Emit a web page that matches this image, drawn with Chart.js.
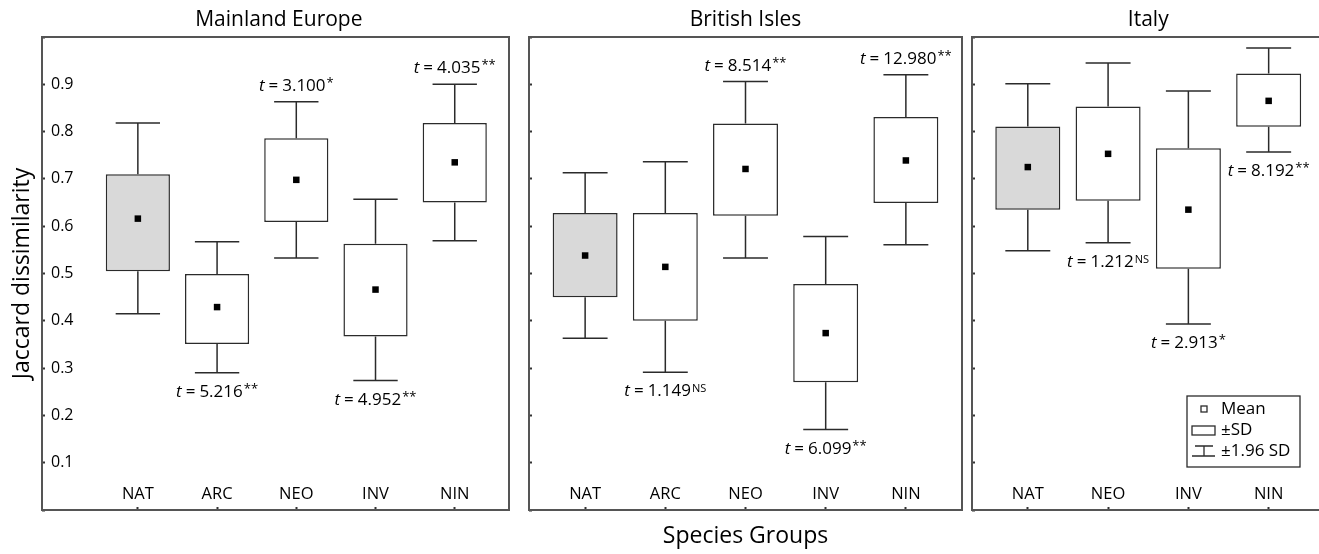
<!DOCTYPE html>
<html>
<head>
<meta charset="utf-8">
<script src="https://cdn.jsdelivr.net/npm/chart.js@4.4.0/dist/chart.umd.min.js"></script>
<style>
  html, body { margin: 0; padding: 0; background: #fff; overflow: hidden; }
  #wrap { position: relative; width: 1319px; height: 554px; }
  #wrap canvas { position: absolute; top: 0; }
</style>
</head>
<body>
<div id="wrap">
  <canvas id="europe" width="520" height="554" style="left:0"></canvas>
  <canvas id="british" width="450" height="554" style="left:520px"></canvas>
  <canvas id="italy" width="354" height="554" style="left:965px"></canvas>
</div>
<script>
(function() {
  'use strict';

  var FONT = '"Open Sans", "DejaVu Sans", sans-serif';
  var INK = '#000';
  var LINE = '#2b2b2b';
  var FRAME = '#555';

  // y axis tick labels (0.1 .. 0.9)
  var yTickLabels = ['0.1', '0.2', '0.3', '0.4', '0.5', '0.6', '0.7', '0.8', '0.9'];
  var legendLabels = ['Mean', '\u00b1SD', '\u00b11.96 SD'];

  // Mainland Europe
  var europeGroups = ['NAT', 'ARC', 'NEO', 'INV', 'NIN'];
  var europeMean   = [0.616, 0.429, 0.698, 0.466, 0.735];
  var europeSdLow  = [0.505, 0.351, 0.609, 0.367, 0.650];
  var europeSdHigh = [0.710, 0.499, 0.786, 0.563, 0.818];
  var europeCiLow  = [0.415, 0.290, 0.533, 0.274, 0.569];
  var europeCiHigh = [0.818, 0.567, 0.863, 0.657, 0.900];
  var europeT      = ['', '5.216', '3.100', '4.952', '4.035'];
  var europeSig    = ['', '**', '*', '**', '**'];
  var europeTSide  = ['', 'below', 'above', 'below', 'above'];

  // British Isles
  var britishGroups = ['NAT', 'ARC', 'NEO', 'INV', 'NIN'];
  var britishMean   = [0.538, 0.514, 0.721, 0.374, 0.739];
  var britishSdLow  = [0.450, 0.400, 0.622, 0.270, 0.649];
  var britishSdHigh = [0.628, 0.628, 0.817, 0.478, 0.831];
  var britishCiLow  = [0.363, 0.291, 0.533, 0.170, 0.561];
  var britishCiHigh = [0.713, 0.736, 0.906, 0.578, 0.920];
  var britishT      = ['', '1.149', '8.514', '6.099', '12.980'];
  var britishSig    = ['', 'NS', '**', '**', '**'];
  var britishTSide  = ['', 'below', 'above', 'below', 'above'];

  // Italy
  var italyGroups = ['NAT', 'NEO', 'INV', 'NIN'];
  var italyMean   = [0.725, 0.753, 0.635, 0.865];
  var italySdLow  = [0.635, 0.654, 0.510, 0.810];
  var italySdHigh = [0.811, 0.853, 0.765, 0.923];
  var italyCiLow  = [0.548, 0.565, 0.393, 0.757];
  var italyCiHigh = [0.901, 0.945, 0.886, 0.977];
  var italyT      = ['', '1.212', '2.913', '8.192'];
  var italySig    = ['', 'NS', '*', '**'];
  var italyTSide  = ['', 'below', 'below', 'below'];

  function yLabel(value) {
    var k = Math.round(value * 10);
    return (k >= 1 && k <= 9) ? yTickLabels[k - 1] : '';
  }

  function drawTLabel(ctx, cx, cy, t, sig) {
    var size = 17;
    var gap = 4;
    var supSize = sig === 'NS' ? 11 : 13;
    ctx.save();
    ctx.fillStyle = INK;
    ctx.textAlign = 'left';
    ctx.textBaseline = 'alphabetic';
    ctx.font = 'italic ' + size + 'px ' + FONT;
    var wT = ctx.measureText('t').width;
    ctx.font = size + 'px ' + FONT;
    var wEq = ctx.measureText('=').width;
    var wNum = ctx.measureText(t).width;
    ctx.font = supSize + 'px ' + FONT;
    var wSig = ctx.measureText(sig).width;
    var x = cx - (wT + gap + wEq + gap + wNum + 1 + wSig) / 2;
    var base = cy + size * 0.36;

    ctx.font = 'italic ' + size + 'px ' + FONT;
    ctx.fillText('t', x, base);
    x += wT + gap;
    ctx.font = size + 'px ' + FONT;
    ctx.fillText('=', x, base);
    x += wEq + gap;
    ctx.fillText(t, x, base);
    x += wNum + 1;
    ctx.font = supSize + 'px ' + FONT;
    ctx.fillText(sig, x, base - (sig === 'NS' ? 4 : 4));
    ctx.restore();
  }

  function drawLegend(ctx, area) {
    var right = area.right - 19;
    var bottom = area.bottom - 43;
    var left = right - 113;
    var top = bottom - 71;
    ctx.save();
    ctx.strokeStyle = LINE;
    ctx.lineWidth = 1.3;
    ctx.strokeRect(left, top, right - left, bottom - top);

    // mean marker
    ctx.strokeRect(left + 14, top + 10, 6, 6);
    // sd box
    ctx.strokeRect(left + 5, top + 30, 23, 9);
    // 1.96 sd whisker
    ctx.beginPath();
    ctx.moveTo(left + 8, top + 50); ctx.lineTo(left + 26, top + 50);
    ctx.moveTo(left + 17, top + 50); ctx.lineTo(left + 17, top + 60);
    ctx.moveTo(left + 5, top + 60); ctx.lineTo(left + 28, top + 60);
    ctx.stroke();

    ctx.fillStyle = INK;
    ctx.font = '17px ' + FONT;
    ctx.textAlign = 'left';
    ctx.textBaseline = 'middle';
    ctx.fillText(legendLabels[0], left + 34, top + 13);
    ctx.fillText(legendLabels[1], left + 34, top + 34);
    ctx.fillText(legendLabels[2], left + 34, top + 55);
    ctx.restore();
  }

  function makePanel(canvasId, p) {
    var decor = {
      id: 'decor',
      beforeDatasetsDraw: function(chart) {
        var ctx = chart.ctx;
        var xs = chart.scales.x;
        var ys = chart.scales.y;
        ctx.save();
        ctx.strokeStyle = LINE;
        ctx.lineWidth = 1.5;
        p.groups.forEach(function(g, i) {
          var cx = xs.getPixelForValue(i);
          var half = xs.getPixelForValue(i + 0.28) - cx;
          [[p.sdHigh[i], p.ciHigh[i]], [p.sdLow[i], p.ciLow[i]]].forEach(function(seg) {
            var y0 = ys.getPixelForValue(seg[0]);
            var y1 = ys.getPixelForValue(seg[1]);
            ctx.beginPath();
            ctx.moveTo(cx, y0); ctx.lineTo(cx, y1);
            ctx.moveTo(cx - half, y1); ctx.lineTo(cx + half, y1);
            ctx.stroke();
          });
        });
        ctx.restore();
      },
      afterDraw: function(chart) {
        var ctx = chart.ctx;
        var area = chart.chartArea;
        var xs = chart.scales.x;
        var ys = chart.scales.y;

        // panel frame
        ctx.save();
        ctx.strokeStyle = FRAME;
        ctx.lineWidth = 2;
        ctx.beginPath();
        if (p.rightBorder) {
          ctx.rect(area.left, area.top, area.right - area.left, area.bottom - area.top);
        } else {
          ctx.moveTo(area.right, area.top);
          ctx.lineTo(area.left, area.top);
          ctx.lineTo(area.left, area.bottom);
          ctx.lineTo(area.right, area.bottom);
        }
        ctx.stroke();
        ctx.restore();

        ctx.save();
        ctx.fillStyle = INK;
        ctx.textAlign = 'center';
        ctx.textBaseline = 'middle';

        // category labels, inside the frame
        ctx.font = '16.5px ' + FONT;
        p.groups.forEach(function(g, i) {
          ctx.fillText(g, xs.getPixelForValue(i), area.bottom - 16);
        });

        // panel title
        ctx.font = '21px ' + FONT;
        ctx.fillText(p.title, xs.getPixelForValue(p.titleAt), 20);

        if (p.yTitle) {
          ctx.save();
          ctx.translate(22, (area.top + area.bottom) / 2);
          ctx.rotate(-Math.PI / 2);
          ctx.font = '23px ' + FONT;
          ctx.fillText(p.yTitle, 0, 0);
          ctx.restore();
        }
        if (p.xTitle) {
          ctx.font = '23px ' + FONT;
          ctx.fillText(p.xTitle, (area.left + area.right) / 2, area.bottom + 26);
        }
        ctx.restore();

        // t statistics
        p.groups.forEach(function(g, i) {
          if (!p.tValue[i]) return;
          var above = p.tSide[i] === 'above';
          var yEnd = ys.getPixelForValue(above ? p.ciHigh[i] : p.ciLow[i]);
          drawTLabel(ctx, xs.getPixelForValue(i), above ? yEnd - 17 : yEnd + 18, p.tValue[i], p.sig[i]);
        });

        if (p.legend) drawLegend(ctx, area);
      }
    };

    return new Chart(document.getElementById(canvasId), {
      type: 'bar',
      data: {
        datasets: [{
          type: 'scatter',
          data: p.groups.map(function(g, i) { return { x: i, y: p.mean[i] }; }),
          pointStyle: 'rect',
          pointRadius: 4.6,
          pointHoverRadius: 4.6,
          backgroundColor: '#000',
          borderColor: '#000',
          borderWidth: 0,
          order: 0
        }, {
          type: 'bar',
          data: p.groups.map(function(g, i) { return { x: i, y: [p.sdLow[i], p.sdHigh[i]] }; }),
          backgroundColor: p.groups.map(function(g) { return g === 'NAT' ? '#d9d9d9' : '#ffffff'; }),
          borderColor: LINE,
          borderWidth: 1.5,
          borderSkipped: false,
          categoryPercentage: 1,
          barPercentage: 0.81,
          order: 1
        }]
      },
      options: {
        responsive: false,
        animation: false,
        devicePixelRatio: 1,
        events: [],
        layout: { padding: p.padding, autoPadding: false },
        plugins: {
          legend: { display: false },
          tooltip: { enabled: false },
          title: { display: false }
        },
        scales: {
          x: {
            type: 'linear',
            min: p.xMin,
            max: p.xMax,
            offset: false,
            afterBuildTicks: function(s) {
              s.ticks = p.groups.map(function(g, i) { return { value: i }; });
            },
            afterFit: function(s) {
              s.height = 0;
              s.paddingLeft = 0;
              s.paddingRight = 0;
            },
            ticks: { display: false },
            grid: { offset: false, drawOnChartArea: false, drawTicks: true, tickLength: -3, tickWidth: 2, color: '#333' },
            border: { display: false }
          },
          y: {
            type: 'linear',
            min: 0,
            max: 1,
            afterFit: function(s) {
              s.width = 0;
              s.paddingTop = 0;
              s.paddingBottom = 0;
            },
            ticks: {
              display: p.yLabels,
              mirror: true,
              padding: 9,
              stepSize: 0.1,
              color: INK,
              font: { family: FONT, size: 16 },
              callback: function(v) { return yLabel(v); }
            },
            grid: { drawOnChartArea: false, drawTicks: true, tickLength: -3, tickWidth: 2, color: '#333' },
            border: { display: false }
          }
        }
      },
      plugins: [decor]
    });
  }

  makePanel('europe', {
    title: 'Mainland Europe', titleAt: 1.78,
    yTitle: 'Jaccard dissimilarity', yLabels: true, rightBorder: true,
    xMin: -1.21, xMax: 4.685,
    padding: { left: 42, right: 11, top: 37, bottom: 44 },
    groups: europeGroups, mean: europeMean, sdLow: europeSdLow, sdHigh: europeSdHigh,
    ciLow: europeCiLow, ciHigh: europeCiHigh, tValue: europeT, sig: europeSig, tSide: europeTSide
  });

  makePanel('british', {
    title: 'British Isles', titleAt: 2,
    xTitle: 'Species Groups', yLabels: false, rightBorder: true,
    xMin: -0.70, xMax: 4.70,
    padding: { left: 9, right: 8, top: 37, bottom: 44 },
    groups: britishGroups, mean: britishMean, sdLow: britishSdLow, sdHigh: britishSdHigh,
    ciLow: britishCiLow, ciHigh: britishCiHigh, tValue: britishT, sig: britishSig, tSide: britishTSide
  });

  makePanel('italy', {
    title: 'Italy', titleAt: 1.5,
    legend: true, yLabels: false, rightBorder: false,
    xMin: -0.695, xMax: 3.627,
    padding: { left: 7, right: 0, top: 37, bottom: 44 },
    groups: italyGroups, mean: italyMean, sdLow: italySdLow, sdHigh: italySdHigh,
    ciLow: italyCiLow, ciHigh: italyCiHigh, tValue: italyT, sig: italySig, tSide: italyTSide
  });
})();
</script>
</body>
</html>
